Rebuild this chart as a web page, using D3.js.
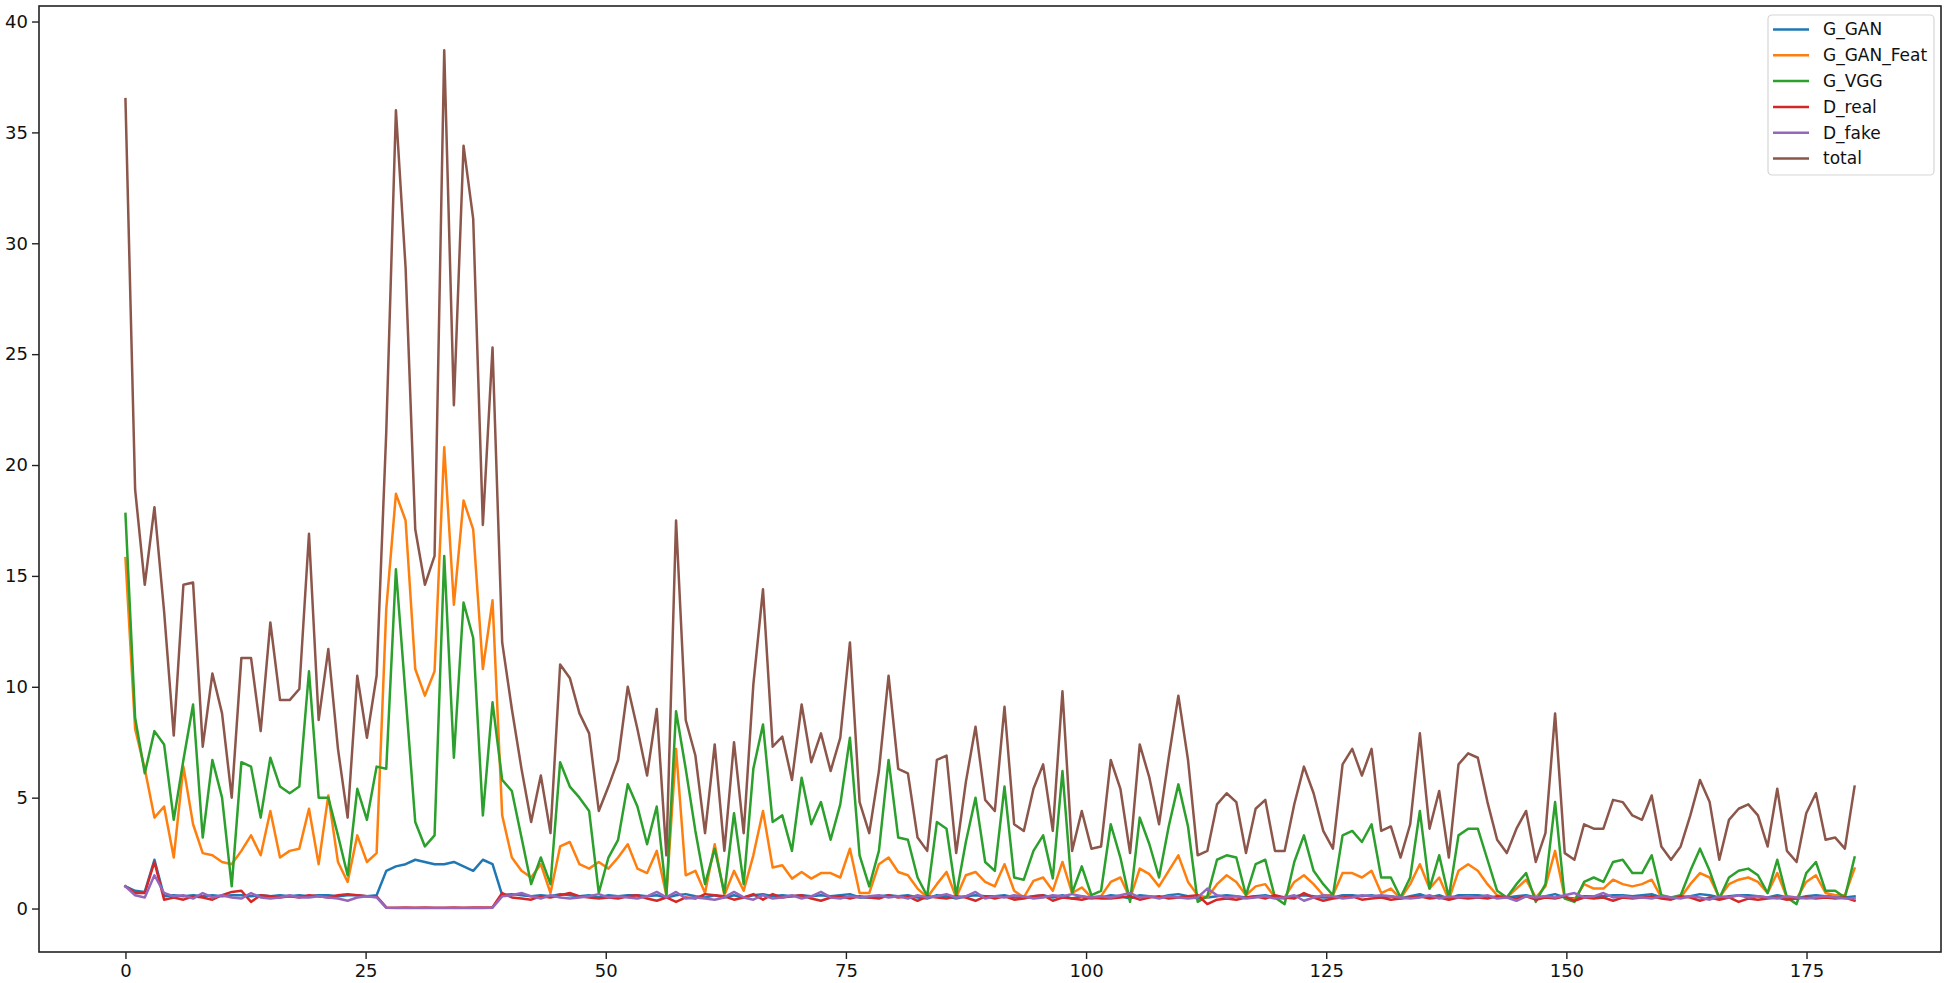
<!DOCTYPE html>
<html>
<head>
<meta charset="utf-8">
<script src="https://cdn.jsdelivr.net/npm/d3@7"></script>
<style>
  html, body { margin: 0; padding: 0; background: #fff; }
  svg { display: block; font-family: "DejaVu Sans", sans-serif; }
</style>
</head>
<body>
<div id="chart"></div>
<script>
// loss curves, one value per logged step (180 points spanning 0..180 on the x axis)
const seriesNames = ["G_GAN", "G_GAN_Feat", "G_VGG", "D_real", "D_fake", "total"];
const seriesColors = ["#1f77b4", "#ff7f0e", "#2ca02c", "#d62728", "#9467bd", "#8c564b"];

const gGan = [
  1.0, 0.8, 0.75, 2.2, 0.55, 0.6, 0.55, 0.6, 0.55, 0.6,
  0.55, 0.6, 0.6, 0.55, 0.6, 0.55, 0.6, 0.55, 0.6, 0.55,
  0.6, 0.6, 0.55, 0.6, 0.6, 0.55, 0.6, 1.7, 1.9, 2.0,
  2.2, 2.1, 2.0, 2.0, 2.1, 1.9, 1.7, 2.2, 2.0, 0.6,
  0.65, 0.6, 0.55, 0.6, 0.55, 0.65, 0.6, 0.55, 0.6, 0.5,
  0.6, 0.55, 0.6, 0.6, 0.55, 0.6, 0.5, 0.6, 0.65, 0.55,
  0.5, 0.6, 0.5, 0.6, 0.5, 0.6, 0.65, 0.55, 0.6, 0.55,
  0.6, 0.55, 0.6, 0.55, 0.6, 0.65, 0.5, 0.5, 0.55, 0.6,
  0.55, 0.6, 0.5, 0.45, 0.6, 0.55, 0.45, 0.55, 0.6, 0.55,
  0.55, 0.6, 0.5, 0.5, 0.55, 0.6, 0.5, 0.6, 0.45, 0.55,
  0.45, 0.5, 0.6, 0.55, 0.45, 0.6, 0.55, 0.5, 0.6, 0.65,
  0.55, 0.45, 0.5, 0.55, 0.6, 0.55, 0.5, 0.55, 0.6, 0.5,
  0.45, 0.55, 0.6, 0.55, 0.5, 0.5, 0.6, 0.6, 0.55, 0.6,
  0.5, 0.55, 0.45, 0.55, 0.65, 0.5, 0.6, 0.45, 0.6, 0.6,
  0.6, 0.55, 0.5, 0.5, 0.55, 0.6, 0.5, 0.55, 0.65, 0.5,
  0.45, 0.55, 0.55, 0.55, 0.6, 0.6, 0.55, 0.6, 0.65, 0.5,
  0.5, 0.5, 0.55, 0.65, 0.6, 0.5, 0.55, 0.6, 0.6, 0.55,
  0.5, 0.6, 0.5, 0.45, 0.55, 0.6, 0.55, 0.55, 0.5, 0.55
];

const gGanFeat = [
  15.8, 8.1, 6.3, 4.1, 4.6, 2.3, 6.4, 3.8, 2.5, 2.4,
  2.1, 2.0, 2.6, 3.3, 2.4, 4.4, 2.3, 2.6, 2.7, 4.5,
  2.0, 5.1, 2.1, 1.2, 3.3, 2.1, 2.5, 13.5, 18.7, 17.5,
  10.8, 9.6, 10.7, 20.8, 13.7, 18.4, 17.1, 10.8, 13.9, 4.2,
  2.3, 1.7, 1.4, 2.0, 0.7, 2.8, 3.0, 2.0, 1.8, 2.1,
  1.8, 2.3, 2.9, 1.8, 1.6, 2.6, 0.6, 7.2, 1.5, 1.7,
  0.7, 2.9, 0.6, 1.7, 0.8, 2.4, 4.4, 1.85, 1.95, 1.35,
  1.65, 1.35, 1.6, 1.6, 1.4, 2.7, 0.7, 0.7, 2.0, 2.3,
  1.65, 1.5, 0.9, 0.5, 1.1, 1.65, 0.5, 1.5, 1.65, 1.2,
  1.0, 2.0, 0.8, 0.5, 1.25, 1.4, 0.8, 2.1, 0.7, 0.95,
  0.5, 0.56, 1.2, 1.4, 0.45, 1.8, 1.55, 1.0, 1.7, 2.4,
  1.2, 0.6, 0.5, 1.1, 1.5, 1.2, 0.6, 1.0, 1.1, 0.5,
  0.5, 1.2, 1.5, 1.1, 0.6, 0.6, 1.6, 1.6, 1.4, 1.7,
  0.7, 0.9, 0.45, 1.1, 2.0, 0.9, 1.4, 0.4, 1.7, 2.0,
  1.7, 1.1, 0.6, 0.5, 0.9, 1.3, 0.5, 1.0, 2.6, 0.5,
  0.4, 1.1, 0.9, 0.9, 1.3, 1.1, 1.0, 1.1, 1.3, 0.5,
  0.5, 0.5, 1.1, 1.6, 1.4, 0.5, 1.1, 1.3, 1.4, 1.2,
  0.7, 1.6, 0.5, 0.45, 1.2, 1.5, 0.7, 0.6, 0.6, 1.8
];

const gVgg = [
  17.8, 8.6, 6.1, 8.0, 7.4, 4.0, 6.7, 9.2, 3.2, 6.7,
  5.0, 1.0, 6.6, 6.4, 4.1, 6.8, 5.5, 5.2, 5.5, 10.7,
  5.0, 5.0, 3.3, 1.5, 5.4, 4.0, 6.4, 6.3, 15.3, 9.6,
  3.9, 2.8, 3.3, 15.9, 6.8, 13.8, 12.2, 4.2, 9.3, 5.8,
  5.3, 3.2, 1.1, 2.3, 1.1, 6.6, 5.5, 5.0, 4.4, 0.7,
  2.3, 3.1, 5.6, 4.6, 2.9, 4.6, 0.6, 8.9, 6.3, 3.5,
  1.1, 2.7, 0.7, 4.3, 1.1, 6.3, 8.3, 3.9, 4.2, 2.6,
  5.9, 3.8, 4.8, 3.1, 4.7, 7.7, 2.4, 1.0, 2.6, 6.7,
  3.2, 3.1, 1.4, 0.56, 3.9, 3.6, 0.6, 3.0, 5.0, 2.1,
  1.7, 5.5, 1.4, 1.3, 2.6, 3.3, 1.36, 6.2, 0.7, 1.9,
  0.6, 0.8, 3.8, 2.3, 0.3, 4.1, 2.9, 1.4, 3.7, 5.6,
  3.7, 0.3, 0.56, 2.2, 2.4, 2.3, 0.6, 2.0, 2.2, 0.5,
  0.2, 2.1, 3.3, 1.7, 1.1, 0.6, 3.3, 3.5, 3.0, 3.8,
  1.4, 1.4, 0.5, 1.4, 4.4, 0.9, 2.4, 0.5, 3.3, 3.6,
  3.6, 2.2, 0.8, 0.5, 1.1, 1.6, 0.3, 1.1, 4.8, 0.45,
  0.3, 1.2, 1.4, 1.2, 2.1, 2.2, 1.6, 1.6, 2.4, 0.6,
  0.5, 0.6, 1.7, 2.7, 1.7, 0.45, 1.4, 1.7, 1.8, 1.5,
  0.7, 2.2, 0.5, 0.2, 1.6, 2.1, 0.8, 0.8, 0.5, 2.3
];

const dReal = [
  1.0, 0.7, 0.7, 2.1, 0.4, 0.5, 0.4, 0.55, 0.5, 0.4,
  0.6, 0.75, 0.8, 0.3, 0.6, 0.55, 0.5, 0.55, 0.5, 0.6,
  0.55, 0.5, 0.6, 0.65, 0.6, 0.55, 0.55, 0.05, 0.04, 0.05,
  0.04, 0.05, 0.04, 0.04, 0.05, 0.04, 0.05, 0.05, 0.06, 0.7,
  0.5, 0.45, 0.4, 0.55, 0.5, 0.6, 0.7, 0.55, 0.5, 0.45,
  0.5, 0.45, 0.55, 0.6, 0.45, 0.35, 0.5, 0.3, 0.5, 0.45,
  0.65, 0.6, 0.55, 0.4, 0.5, 0.65, 0.4, 0.65, 0.5, 0.55,
  0.6, 0.45, 0.35, 0.5, 0.55, 0.45, 0.55, 0.5, 0.45, 0.6,
  0.5, 0.55, 0.35, 0.55, 0.5, 0.45, 0.55, 0.5, 0.35, 0.55,
  0.45, 0.55, 0.4, 0.45, 0.55, 0.6, 0.35, 0.5, 0.45, 0.4,
  0.5, 0.45, 0.45, 0.5, 0.55, 0.4, 0.5, 0.55, 0.45, 0.5,
  0.55, 0.6, 0.2, 0.4, 0.45, 0.4, 0.5, 0.55, 0.45, 0.6,
  0.5, 0.45, 0.7, 0.5, 0.35, 0.45, 0.5, 0.55, 0.4, 0.45,
  0.5, 0.4, 0.45, 0.5, 0.55, 0.45, 0.5, 0.4, 0.5, 0.45,
  0.5, 0.45, 0.55, 0.5, 0.45, 0.55, 0.4, 0.5, 0.45, 0.55,
  0.35, 0.5, 0.45, 0.5, 0.35, 0.5, 0.45, 0.5, 0.55, 0.45,
  0.4, 0.55, 0.5, 0.35, 0.5, 0.4, 0.5, 0.3, 0.45, 0.4,
  0.45, 0.5, 0.4, 0.45, 0.5, 0.45, 0.5, 0.45, 0.5, 0.35
];

const dFake = [
  1.0, 0.6, 0.5, 1.5, 0.7, 0.55, 0.6, 0.45, 0.7, 0.5,
  0.6, 0.5, 0.45, 0.7, 0.5, 0.45, 0.5, 0.6, 0.5, 0.5,
  0.55, 0.5, 0.45, 0.35, 0.5, 0.55, 0.5, 0.03, 0.02, 0.02,
  0.02, 0.02, 0.02, 0.02, 0.02, 0.02, 0.02, 0.02, 0.04, 0.55,
  0.6, 0.7, 0.55, 0.45, 0.6, 0.5, 0.45, 0.5, 0.55, 0.65,
  0.5, 0.55, 0.5, 0.45, 0.55, 0.75, 0.5, 0.75, 0.45, 0.5,
  0.45, 0.4, 0.5, 0.75, 0.5, 0.4, 0.6, 0.45, 0.5, 0.6,
  0.45, 0.55, 0.75, 0.5, 0.45, 0.55, 0.5, 0.55, 0.6, 0.5,
  0.55, 0.45, 0.6, 0.5, 0.55, 0.65, 0.5, 0.55, 0.75, 0.45,
  0.55, 0.5, 0.6, 0.55, 0.45, 0.5, 0.6, 0.55, 0.65, 0.55,
  0.5, 0.55, 0.5, 0.6, 0.7, 0.5, 0.55, 0.45, 0.55, 0.5,
  0.45, 0.5, 0.9, 0.6, 0.5, 0.55, 0.45, 0.5, 0.55, 0.45,
  0.5, 0.6, 0.35, 0.5, 0.6, 0.55, 0.45, 0.5, 0.6, 0.55,
  0.6, 0.55, 0.5, 0.45, 0.5, 0.6, 0.45, 0.55, 0.5, 0.55,
  0.5, 0.6, 0.45, 0.5, 0.35, 0.55, 0.5, 0.55, 0.5, 0.6,
  0.7, 0.5, 0.55, 0.7, 0.5, 0.55, 0.5, 0.5, 0.45, 0.55,
  0.5, 0.45, 0.55, 0.5, 0.4, 0.55, 0.5, 0.6, 0.5, 0.55,
  0.5, 0.45, 0.55, 0.5, 0.45, 0.5, 0.55, 0.5, 0.45, 0.45
];

const total = [
  36.5, 18.9, 14.6, 18.1, 13.4, 7.8, 14.6, 14.7, 7.3, 10.6,
  8.8, 5.0, 11.3, 11.3, 8.0, 12.9, 9.4, 9.4, 9.9, 16.9,
  8.5, 11.7, 7.2, 4.1, 10.5, 7.7, 10.5, 21.5, 36.0, 28.9,
  17.1, 14.6, 15.9, 38.7, 22.7, 34.4, 31.1, 17.3, 25.3, 12.0,
  9.0, 6.3, 3.9, 6.0, 3.4, 11.0, 10.4, 8.8, 7.9, 4.4,
  5.5, 6.7, 10.0, 8.1, 6.0, 9.0, 2.4, 17.5, 8.5, 6.9,
  3.4, 7.4, 2.6, 7.5, 3.4, 10.1, 14.4, 7.3, 7.75, 5.8,
  9.2, 6.6, 7.9, 6.2, 7.7, 12.0, 4.8, 3.4, 6.2, 10.5,
  6.3, 6.1, 3.2, 2.6, 6.7, 6.9, 2.5, 5.7, 8.2, 4.9,
  4.4, 9.1, 3.8, 3.5, 5.4, 6.5, 3.5, 9.8, 2.6, 4.4,
  2.7, 2.8, 6.7, 5.4, 2.5, 7.4, 5.9, 3.8, 6.8, 9.6,
  6.7, 2.4, 2.6, 4.7, 5.2, 4.8, 2.5, 4.5, 4.9, 2.6,
  2.6, 4.7, 6.4, 5.2, 3.5, 2.7, 6.5, 7.2, 6.0, 7.2,
  3.5, 3.7, 2.3, 3.8, 7.9, 3.6, 5.3, 2.3, 6.5, 7.0,
  6.8, 4.8, 3.1, 2.5, 3.6, 4.4, 2.1, 3.4, 8.8, 2.5,
  2.2, 3.8, 3.6, 3.6, 4.9, 4.8, 4.2, 4.0, 5.1, 2.8,
  2.2, 2.8, 4.2, 5.8, 4.8, 2.2, 4.0, 4.5, 4.7, 4.2,
  2.8, 5.4, 2.6, 2.1, 4.3, 5.2, 3.1, 3.2, 2.7, 5.5
];

const xTicks = [0, 25, 50, 75, 100, 125, 150, 175];
const yTicks = [0, 5, 10, 15, 20, 25, 30, 35, 40];

const seriesValues = [gGan, gGanFeat, gVgg, dReal, dFake, total];

// x position of each logged step, first at 0 and last at 180
const steps = d3.range(total.length).map(i => i * 180 / (total.length - 1));

const width = 1950, height = 983;
const plot = { left: 39, right: 1941, top: 6, bottom: 952 };

const svg = d3.select("#chart").append("svg")
  .attr("width", width)
  .attr("height", height);

const x = d3.scaleLinear().domain([-9, 189]).range([plot.left, plot.right]);
const y = d3.scaleLinear().domain([-1.96, 40.7]).range([plot.bottom, plot.top]);

// lines, drawn in the same order as the legend so total ends on top
const line = d3.line()
  .x((d, i) => x(steps[i]))
  .y(d => y(d));

svg.append("g")
  .attr("class", "lines")
  .selectAll("path")
  .data(seriesValues)
  .enter()
  .append("path")
  .attr("d", line)
  .attr("fill", "none")
  .attr("stroke", (d, i) => seriesColors[i])
  .attr("stroke-width", 2.5)
  .attr("stroke-linejoin", "round")
  .attr("stroke-linecap", "square");

// axes
const xAxis = svg.append("g")
  .attr("transform", `translate(0,${plot.bottom})`)
  .call(d3.axisBottom(x).tickValues(xTicks).tickSize(7).tickPadding(5).tickFormat(d3.format("d")));

const yAxis = svg.append("g")
  .attr("transform", `translate(${plot.left},0)`)
  .call(d3.axisLeft(y).tickValues(yTicks).tickSize(7).tickPadding(4).tickFormat(d3.format("d")));

[xAxis, yAxis].forEach(a => {
  a.select(".domain").remove();
  a.selectAll(".tick line").attr("stroke", "#222").attr("stroke-width", 1.4);
  a.selectAll(".tick text")
    .attr("fill", "#111")
    .style("font-family", "'DejaVu Sans', sans-serif")
    .style("font-size", "18px");
});

// frame around the plot area
svg.append("rect")
  .attr("x", plot.left)
  .attr("y", plot.top)
  .attr("width", plot.right - plot.left)
  .attr("height", plot.bottom - plot.top)
  .attr("fill", "none")
  .attr("stroke", "#222")
  .attr("stroke-width", 1.6);

// legend
const legend = svg.append("g")
  .attr("class", "legend")
  .attr("transform", "translate(1768,15)");

legend.append("rect")
  .attr("width", 166)
  .attr("height", 160)
  .attr("rx", 4)
  .attr("fill", "#fff")
  .attr("fill-opacity", 0.8)
  .attr("stroke", "#d6d6d6")
  .attr("stroke-width", 1.2);

const rows = legend.selectAll("g.row")
  .data(seriesNames)
  .enter()
  .append("g")
  .attr("class", "row")
  .attr("transform", (d, i) => `translate(0,${14.5 + i * 25.8})`);

rows.append("line")
  .attr("x1", 5)
  .attr("x2", 41)
  .attr("stroke", (d, i) => seriesColors[i])
  .attr("stroke-width", 2.5);

rows.append("text")
  .attr("x", 55)
  .attr("dy", "0.35em")
  .style("font-size", "17px")
  .attr("fill", "#111")
  .text(d => d);
</script>
</body>
</html>
